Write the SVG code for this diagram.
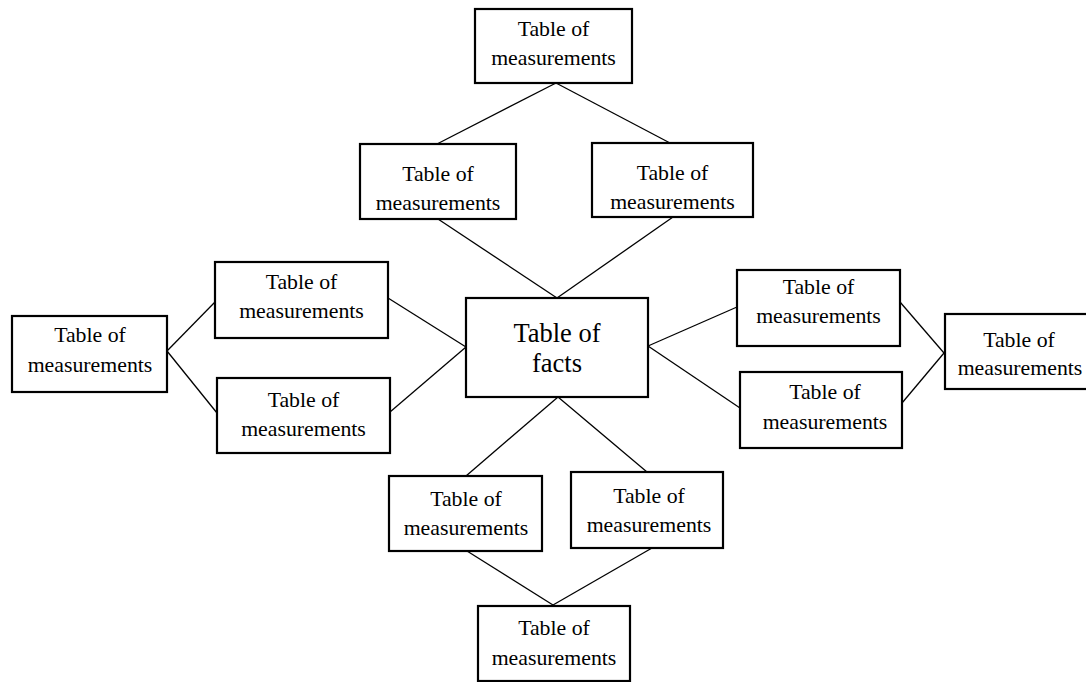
<svg xmlns="http://www.w3.org/2000/svg" width="1086" height="682" viewBox="0 0 1086 682">
<style>
rect{fill:#fff;stroke:#000;stroke-width:2.2}
text{font-family:"Liberation Serif","Times New Roman",serif;font-size:21.8px;fill:#000;text-anchor:middle}
.big{font-size:26.5px}
#connectors line{stroke:#000;stroke-width:1.3}
</style>
<rect x="0" y="0" width="1086" height="682" style="stroke:none"/>
<g id="connectors">
<line x1="556" y1="83" x2="437" y2="144"/>
<line x1="556" y1="83" x2="670" y2="143"/>
<line x1="438" y1="219" x2="557" y2="298"/>
<line x1="673" y1="217" x2="557" y2="298"/>
<line x1="167" y1="351" x2="215" y2="302"/>
<line x1="167" y1="351" x2="217" y2="413"/>
<line x1="388" y1="298" x2="466" y2="347"/>
<line x1="390" y1="412" x2="466" y2="347"/>
<line x1="648" y1="346" x2="737" y2="307"/>
<line x1="648" y1="346" x2="740" y2="408"/>
<line x1="900" y1="302" x2="944" y2="353"/>
<line x1="902" y1="403" x2="944" y2="353"/>
<line x1="558" y1="397" x2="466" y2="476"/>
<line x1="558" y1="397" x2="647" y2="472"/>
<line x1="467" y1="551" x2="553" y2="605"/>
<line x1="652" y1="548" x2="553" y2="605"/>
</g>
<g id="n-top"><rect x="475" y="9" width="157" height="74"/><text x="553.5" y="36">Table of</text><text x="553.5" y="65">measurements</text></g>
<g id="n-upper-mid-left"><rect x="360" y="144" width="156" height="75"/><text x="438" y="181">Table of</text><text x="438" y="210">measurements</text></g>
<g id="n-upper-mid-right"><rect x="592" y="143" width="161" height="74"/><text x="672.5" y="180">Table of</text><text x="672.5" y="209">measurements</text></g>
<g id="n-center"><rect x="466" y="298" width="182" height="99"/><text class="big" x="557" y="342">Table of</text><text class="big" x="557" y="372">facts</text></g>
<g id="n-upper-left"><rect x="215" y="262" width="173" height="76"/><text x="301.5" y="289">Table of</text><text x="301.5" y="318">measurements</text></g>
<g id="n-lower-left"><rect x="217" y="378" width="173" height="75"/><text x="303.5" y="407">Table of</text><text x="303.5" y="436">measurements</text></g>
<g id="n-far-left"><rect x="12" y="316" width="155" height="76"/><text x="90" y="342">Table of</text><text x="90" y="372">measurements</text></g>
<g id="n-upper-right"><rect x="737" y="270" width="163" height="76"/><text x="818.5" y="294">Table of</text><text x="818.5" y="323">measurements</text></g>
<g id="n-lower-right"><rect x="740" y="372" width="162" height="76"/><text x="825" y="399">Table of</text><text x="825" y="429">measurements</text></g>
<g id="n-far-right"><rect x="945" y="314" width="150" height="75"/><text x="1019" y="347">Table of</text><text x="1020" y="375">measurements</text></g>
<g id="n-lower-mid-left"><rect x="389" y="476" width="153" height="75"/><text x="466" y="506">Table of</text><text x="466" y="535">measurements</text></g>
<g id="n-lower-mid-right"><rect x="571" y="472" width="152" height="76"/><text x="649" y="503">Table of</text><text x="649" y="532">measurements</text></g>
<g id="n-bottom"><rect x="478" y="606" width="152" height="75"/><text x="554" y="635">Table of</text><text x="554" y="665">measurements</text></g>
</svg>
